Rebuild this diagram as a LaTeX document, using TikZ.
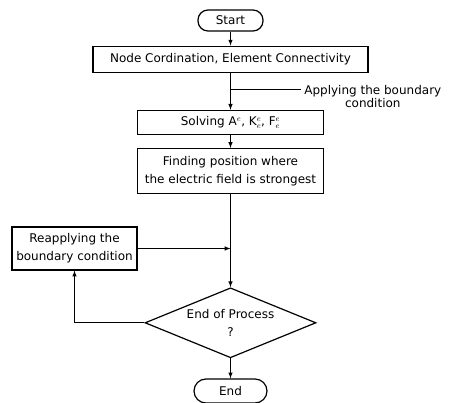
\documentclass[tikz,border=0pt]{standalone}
\usepackage{fontspec}
\setmainfont{DejaVu Sans}
\usetikzlibrary{positioning,shapes.geometric}

\begin{document}
\begin{tikzpicture}[
                x=1pt, y=-1pt,
                node distance=14pt,
                >=latex,
                line width=1pt,
                font=\fontsize{12}{18}\selectfont,
                box/.style={draw, rectangle, line width=1.2pt, inner sep=2pt, align=center},
                terminal/.style={draw, rectangle, rounded corners=10pt, line width=1.2pt}
                ]

    \useasboundingbox (0,0) rectangle (458,403);

    \node [terminal, minimum width=65pt, minimum height=21pt] (start) at (230.5,20.5) {Start};
    \node [box, below=14pt of start, minimum width=275pt, minimum height=26pt] (mesh) {Node Cordination, Element Connectivity};
    \node [box, below=37pt of mesh, minimum width=186pt, minimum height=24pt] (solve) {Solving A$^e$, K$^e_e$, F$^e_e$};
    \node [box, below=13pt of solve, minimum width=186pt, minimum height=45pt] (field) {Finding position where\\the electric field is strongest};
    \node [draw, diamond, aspect=2.45, line width=1.2pt, inner sep=0pt, align=center, below=93pt of field, minimum width=171pt, minimum height=70pt] (check) {End of Process\\?};
    \node [terminal, below=20pt of check, minimum width=73pt, minimum height=24pt, rounded corners=12pt] (end) {End};
    \node [box, minimum width=125pt, minimum height=43pt] (reapply) at (74.5,248.5) {Reapplying the\\boundary condition};

    \coordinate [below=17pt of mesh.south] (tap);
    \coordinate [right=70pt of tap] (bcend);
    \node [right=0pt of bcend, yshift=-6.5pt, align=center, font=\fontsize{12}{13}\selectfont] (bclabel) {Applying the boundary\\condition};
    \coordinate (merge) at (reapply.east -| field.south);

    \draw [->] (start) -- (mesh);
    \draw [->] (mesh) -- (solve);
    \draw (tap) -- (bcend);
    \draw [->] (solve) -- (field);
    \draw [->] (field) -- (check);
    \draw [->] (check) -- (end);
    \draw [->] (check.west) -| (reapply.south);
    \draw [->] (reapply.east) -- (merge);
\end{tikzpicture}
\end{document}
